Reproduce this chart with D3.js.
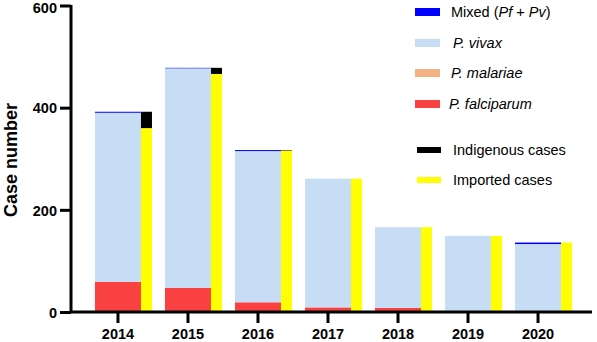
<!DOCTYPE html>
<html>
<head>
<meta charset="utf-8">
<script src="https://cdn.jsdelivr.net/npm/d3@7"></script>
<style>
  body { margin: 0; background: #fff; }
  svg { font-family: "Liberation Sans", Arial, sans-serif; }
</style>
</head>
<body>
<script>
const width = 597;
const height = 342;

// data
const years = ["2014", "2015", "2016", "2017", "2018", "2019", "2020"];
const falciparum = [59, 47, 19, 9, 8, 0, 0];
const malariae = [0, 0, 0, 0, 0, 0, 0];
const vivax = [331, 430, 296, 252, 158, 149, 133];
const mixed = [2, 1, 2, 0, 0, 0, 3];
const imported = [360, 466, 316, 261, 166, 149, 136];
const indigenous = [32, 12, 1, 0, 0, 0, 0];
const yTicks = [0, 200, 400, 600];

const species = [
  { key: "falciparum", values: falciparum, color: "#fa4141" },
  { key: "malariae", values: malariae, color: "#f4b183" },
  { key: "vivax", values: vivax, color: "#c7ddf6" },
  { key: "mixed", values: mixed, color: "#0000ff" }
];
const origin = [
  { key: "imported", values: imported, color: "#ffff00" },
  { key: "indigenous", values: indigenous, color: "#000000" }
];

const legendItems = [
  { label: ["Mixed (", { i: "Pf" }, " + ", { i: "Pv" }, ")"], color: "#0000ff", y: 12, tx: 451 },
  { label: [{ i: "P. vivax" }], color: "#c7ddf6", y: 43, tx: 453 },
  { label: [{ i: "P. malariae" }], color: "#f4b183", y: 73, tx: 451 },
  { label: [{ i: "P. falciparum" }], color: "#fa4141", y: 104, tx: 449 },
  { label: ["Indigenous cases"], color: "#000000", y: 150, tx: 453, small: true },
  { label: ["Imported cases"], color: "#ffff00", y: 180, tx: 453, small: true }
];

const svg = d3.select("body")
  .append("svg")
  .attr("width", width)
  .attr("height", height);

const x = d3.scaleBand()
  .domain(years)
  .range([83, 573])
  .paddingInner(0.343)
  .paddingOuter(0.171);

const y = d3.scaleLinear()
  .domain([0, 600])
  .range([312, 5.5]);

const narrow = 11;

// stacked species bars
const rows = years.map((yr, i) => {
  const r = { year: yr };
  species.forEach(s => r[s.key] = s.values[i]);
  origin.forEach(s => r[s.key] = s.values[i]);
  return r;
});

const stackSpecies = d3.stack().keys(species.map(s => s.key))(rows);
const stackOrigin = d3.stack().keys(origin.map(s => s.key))(rows);

svg.append("g")
  .selectAll("g")
  .data(stackSpecies)
  .join("g")
  .attr("fill", (d, i) => species[i].color)
  .selectAll("rect")
  .data(d => d)
  .join("rect")
  .attr("x", d => x(d.data.year))
  .attr("width", x.bandwidth())
  .attr("y", d => y(d[1]))
  .attr("height", d => y(d[0]) - y(d[1]));

svg.append("g")
  .selectAll("g")
  .data(stackOrigin)
  .join("g")
  .attr("fill", (d, i) => origin[i].color)
  .selectAll("rect")
  .data(d => d)
  .join("rect")
  .attr("x", d => x(d.data.year) + x.bandwidth())
  .attr("width", narrow)
  .attr("y", d => y(d[1]))
  .attr("height", d => y(d[0]) - y(d[1]));

// axes
const yAxis = svg.append("g")
  .attr("transform", "translate(71,0)")
  .call(d3.axisLeft(y).tickValues(yTicks).tickSize(11).tickSizeOuter(0).tickPadding(3));

const xAxis = svg.append("g")
  .attr("transform", "translate(0,312)")
  .call(d3.axisBottom(x).tickSize(11).tickSizeOuter(0).tickPadding(6));

xAxis.select(".domain").attr("d", "M70,0H592");
yAxis.select(".domain").attr("d", "M0,312V5");

[xAxis, yAxis].forEach(a => {
  a.selectAll(".domain, .tick line")
    .attr("stroke", "#000")
    .attr("stroke-width", 3);
  a.selectAll(".tick text")
    .attr("fill", "#000")
    .style("font-family", "'Liberation Sans', Arial, sans-serif")
    .style("font-size", "14.5px")
    .style("font-weight", "bold");
});
yAxis.selectAll(".tick text").attr("dy", d => d === 600 ? "0.45em" : "0.36em");

svg.append("text")
  .attr("transform", "translate(17,160) rotate(-90)")
  .attr("text-anchor", "middle")
  .style("font-size", "18px")
  .style("font-weight", "bold")
  .text("Case number");

// legend
const legend = svg.append("g");
legendItems.forEach(it => {
  legend.append("rect")
    .attr("x", it.small ? 417 : 415)
    .attr("y", it.y - (it.small ? 3 : 4))
    .attr("width", it.small ? 24 : 25)
    .attr("height", it.small ? 6 : 8)
    .attr("fill", it.color);
  const t = legend.append("text")
    .attr("x", it.tx)
    .attr("y", it.y)
    .attr("dy", "0.36em")
    .style("font-size", "14.5px");
  it.label.forEach(part => {
    if (typeof part === "string") t.append("tspan").text(part);
    else t.append("tspan").style("font-style", "italic").text(part.i);
  });
});
</script>
</body>
</html>
